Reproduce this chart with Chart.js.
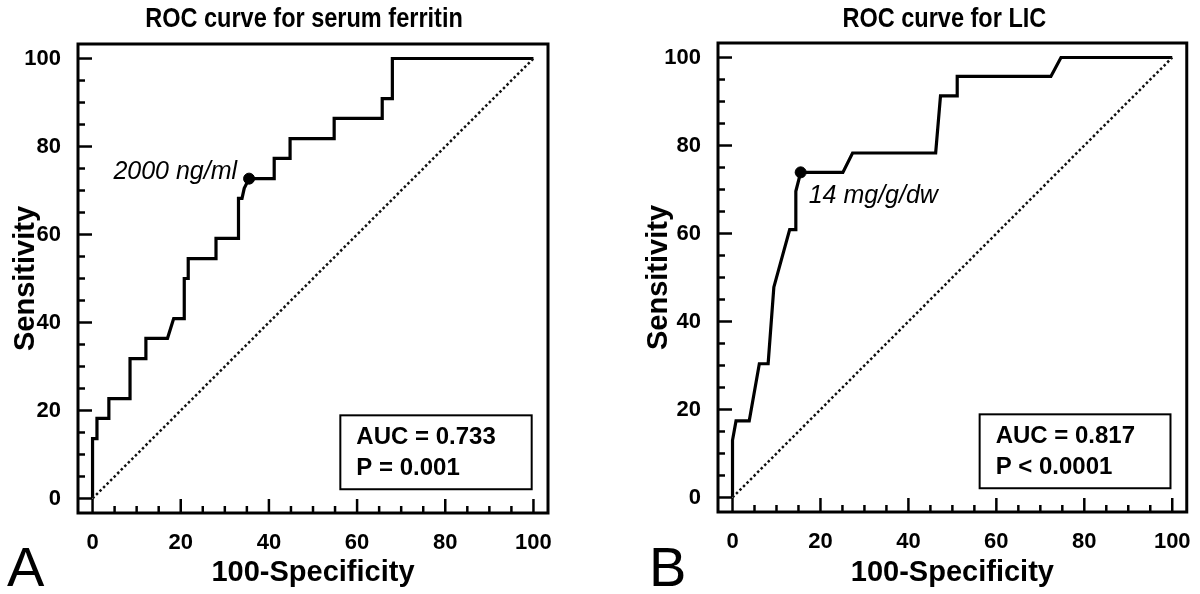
<!DOCTYPE html>
<html>
<head>
<meta charset="utf-8">
<script src="https://cdn.jsdelivr.net/npm/chart.js@4.4.0/dist/chart.umd.min.js"></script>
<style>
body{margin:0;background:#fff;}
.wrap{display:flex;width:1200px;height:594px;}
.box{width:600px;height:594px;}
</style>
</head>
<body>
<div class="wrap">
  <div class="box"><canvas id="rocA" width="600" height="594"></canvas></div>
  <div class="box"><canvas id="rocB" width="600" height="594"></canvas></div>
</div>
<script>
// panel A - serum ferritin (100-specificity vs sensitivity)
const ferritinX = [0, 0, 1, 1, 3.7, 3.7, 8.5, 8.5, 12.1, 12.1, 17, 18.4, 20.8, 20.8, 21.7, 21.7, 28, 28, 33.1, 33.1, 33.9, 34.4, 35.5, 41.2, 41.2, 44.8, 44.8, 54.8, 54.8, 65.7, 65.7, 68, 68, 100];
const ferritinY = [0, 13.6, 13.6, 18.2, 18.2, 22.7, 22.7, 31.8, 31.8, 36.4, 36.4, 40.9, 40.9, 50, 50, 54.5, 54.5, 59.1, 59.1, 68.2, 68.2, 70.5, 72.7, 72.7, 77.3, 77.3, 81.8, 81.8, 86.4, 86.4, 90.9, 90.9, 100, 100];
const ferritinCut = [35.5, 72.7];

// panel B - LIC
const licX = [0, 0, 0.8, 3.8, 6.1, 8.1, 9.4, 13, 14.4, 14.4, 15.5, 25.1, 27.3, 46.2, 47.3, 51.1, 51.1, 72.4, 74.7, 100];
const licY = [0, 13, 17.4, 17.4, 30.4, 30.4, 47.8, 60.9, 60.9, 69.6, 73.9, 73.9, 78.3, 78.3, 91.3, 91.3, 95.7, 95.7, 100, 100];
const licCut = [15.5, 73.9];

const diagX = [0, 100];
const diagY = [0, 100];
const majorTicks = [0, 20, 40, 60, 80, 100];
const minorTicks = [5, 10, 15, 25, 30, 35, 45, 50, 55, 65, 70, 75, 85, 90, 95];

const FONT = '"Liberation Sans", Arial, sans-serif';

const rocDecor = {
  id: 'rocDecor',
  afterDraw(chart, args, opts) {
    const ctx = chart.ctx;
    const a = chart.chartArea;
    const xs = chart.scales.x, ys = chart.scales.y;
    ctx.save();
    ctx.strokeStyle = '#000';
    ctx.lineWidth = 3;
    ctx.strokeRect(a.left, a.top, a.right - a.left, a.bottom - a.top);

    // inward tick marks on left and bottom
    ctx.lineWidth = 2.5;
    const tk = (v, len) => {
      let px = xs.getPixelForValue(v);
      ctx.beginPath(); ctx.moveTo(px, a.bottom); ctx.lineTo(px, a.bottom - len); ctx.stroke();
      let py = ys.getPixelForValue(v);
      ctx.beginPath(); ctx.moveTo(a.left, py); ctx.lineTo(a.left + len, py); ctx.stroke();
    };
    majorTicks.forEach(v => tk(v, 14));
    minorTicks.forEach(v => tk(v, 7));

    // title (slightly condensed like the original)
    ctx.fillStyle = '#000';
    ctx.save();
    ctx.translate((a.left + a.right) / 2 + opts.titleShift, 19);
    ctx.scale(0.84, 1);
    ctx.font = 'bold 28px ' + FONT;
    ctx.textAlign = 'center';
    ctx.textBaseline = 'middle';
    ctx.fillText(opts.title, 0, 0);
    ctx.restore();

    // panel letter
    ctx.font = '56px ' + FONT;
    ctx.textAlign = 'left';
    ctx.textBaseline = 'alphabetic';
    ctx.fillText(opts.letter, opts.letterX, 586);

    // cut-off label
    const cx = xs.getPixelForValue(opts.cut[0]), cy = ys.getPixelForValue(opts.cut[1]);
    ctx.font = 'italic 25px ' + FONT;
    ctx.textAlign = opts.labelAlign;
    ctx.textBaseline = 'middle';
    ctx.fillText(opts.label, cx + opts.labelDx, cy + opts.labelDy);

    // AUC box
    const bx1 = xs.getPixelForValue(56.2), bx2 = xs.getPixelForValue(99.6);
    const by1 = ys.getPixelForValue(18.9), by2 = ys.getPixelForValue(2.1);
    ctx.lineWidth = 2;
    ctx.strokeRect(bx1, by1, bx2 - bx1, by2 - by1);
    ctx.font = 'bold 24px ' + FONT;
    ctx.textAlign = 'left';
    ctx.fillText(opts.auc[0], bx1 + 16, by1 + 22);
    ctx.fillText(opts.auc[1], bx1 + 16, by1 + 53);
    ctx.restore();
  }
};

function toPts(xa, ya) {
  return xa.map((x, i) => ({x: x, y: ya[i]}));
}

function makeRoc(id, xa, ya, cut, decor, pad, yWidth, xHeight) {
  new Chart(document.getElementById(id), {
    type: 'scatter',
    data: {
      datasets: [
        {data: toPts(diagX, diagY), showLine: true, borderColor: '#111', borderWidth: 2.5, borderDash: [2.5, 2.5], pointRadius: 0},
        {data: toPts(xa, ya), showLine: true, borderColor: '#000', borderWidth: 3.2, pointRadius: 0, tension: 0},
        {data: [{x: cut[0], y: cut[1]}], pointRadius: 5.5, backgroundColor: '#000', borderColor: '#000'}
      ]
    },
    options: {
      responsive: false,
      animation: false,
      layout: {padding: pad},
      plugins: {legend: {display: false}, tooltip: {enabled: false}, rocDecor: decor},
      scales: {
        x: {
          type: 'linear', min: -3.3, max: 103.3,
          afterBuildTicks: s => { s.ticks = majorTicks.map(v => ({value: v})); },
          afterFit: s => { s.height = xHeight; },
          grid: {display: false}, border: {display: false},
          ticks: {color: '#000', font: {family: FONT, size: 22, weight: 'bold'}, padding: 9, maxRotation: 0},
          title: {display: true, text: '100-Specificity', color: '#000', font: {family: FONT, size: 29, weight: 'bold'}, padding: {bottom: 4}}
        },
        y: {
          type: 'linear', min: -3.3, max: 103.3,
          afterBuildTicks: s => { s.ticks = majorTicks.map(v => ({value: v})); },
          afterFit: s => { s.width = yWidth; },
          grid: {display: false}, border: {display: false},
          ticks: {color: '#000', font: {family: FONT, size: 22, weight: 'bold'}, padding: 9},
          title: {display: true, text: 'Sensitivity', color: '#000', font: {family: FONT, size: 29, weight: 'bold'}, padding: {top: 9}}
        }
      }
    },
    plugins: [rocDecor]
  });
}

makeRoc('rocA', ferritinX, ferritinY, ferritinCut,
  {title: 'ROC curve for serum ferritin', titleShift: -9, letter: 'A', letterX: 7, cut: ferritinCut,
   label: '2000 ng/ml', labelAlign: 'right', labelDx: -12, labelDy: -7, auc: ['AUC = 0.733', 'P = 0.001']},
  {top: 44, right: 52, left: 0, bottom: 0}, 78, 81);

makeRoc('rocB', licX, licY, licCut,
  {title: 'ROC curve for LIC', titleShift: -8, letter: 'B', letterX: 49, cut: licCut,
   label: '14 mg/g/dw', labelAlign: 'left', labelDx: 8, labelDy: 24, auc: ['AUC = 0.817', 'P < 0.0001']},
  {top: 43, right: 13, left: 33, bottom: 0}, 85, 82);
</script>
</body>
</html>
